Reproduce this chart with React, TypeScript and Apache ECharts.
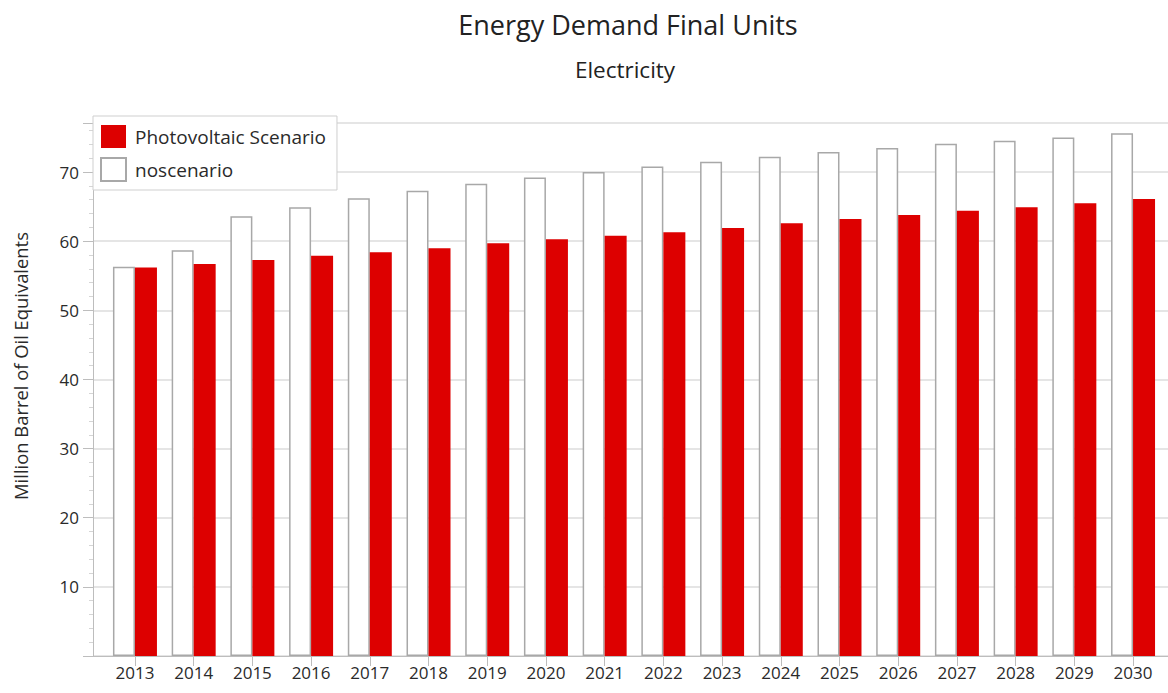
import React, { useEffect, useRef } from "react";
import * as echarts from "echarts";

const years = ["2013", "2014", "2015", "2016", "2017", "2018", "2019", "2020", "2021", "2022", "2023", "2024", "2025", "2026", "2027", "2028", "2029", "2030"];
const photovoltaic = [56.2, 56.7, 57.3, 57.9, 58.4, 59.0, 59.7, 60.3, 60.8, 61.3, 61.9, 62.6, 63.2, 63.8, 64.4, 64.9, 65.5, 66.1];
const noscenario = [56.3, 58.7, 63.6, 64.9, 66.2, 67.3, 68.3, 69.2, 70.0, 70.8, 71.5, 72.2, 72.9, 73.5, 74.1, 74.55, 75.0, 75.6];
const yMax = 77.1;

const FONT = "'Open Sans', 'Noto Sans', sans-serif";

export default function App() {
  const ref = useRef<HTMLDivElement>(null);
  useEffect(() => {
    document.body.style.margin = "0";
    const chart = echarts.init(ref.current!, null, { renderer: "svg" });
    chart.setOption({
      animation: false,
      backgroundColor: "#ffffff",
      textStyle: { fontFamily: FONT },
      title: [
        {
          text: "Energy Demand Final Units",
          left: 623,
          top: 6,
          textAlign: "center",
          textStyle: { fontFamily: FONT, fontSize: 27, fontWeight: "normal", color: "#222" },
        },
        {
          text: "Electricity",
          left: 620,
          top: 53,
          textAlign: "center",
          textStyle: { fontFamily: FONT, fontSize: 22.5, fontWeight: "normal", color: "#222" },
        },
      ],
      legend: {
        data: ["Photovoltaic Scenario", "noscenario"],
        orient: "vertical",
        left: 93,
        top: 116,
        padding: [9, 11, 8, 7],
        itemWidth: 25,
        itemHeight: 23,
        itemGap: 9,
        icon: "rect",
        backgroundColor: "#ffffff",
        borderColor: "#cfcfcf",
        borderWidth: 1,
        textStyle: { fontFamily: FONT, fontSize: 19, color: "#2a2a2a", padding: [0, 0, 0, 4] },
        z: 10,
      },
      graphic: [
        {
          type: "text",
          x: 20,
          y: 366,
          rotation: Math.PI / 2,
          style: {
            text: "Million Barrel of Oil Equivalents",
            font: `18.4px ${FONT}`,
            fill: "#2a2a2a",
            textAlign: "center",
            textVerticalAlign: "middle",
          },
        },
      ],
      grid: [
        { left: 93, right: 0, top: 123, bottom: 37 },
        { left: 105.6, right: 5.6, top: 123, bottom: 37 },
      ],
      xAxis: [
        {
          gridIndex: 0,
          type: "value",
          min: 0,
          max: 1,
          axisLine: { show: true, lineStyle: { color: "#bdbdbd", width: 1 } },
          axisTick: { show: false },
          axisLabel: { show: false },
          splitLine: { show: false },
        },
        {
          gridIndex: 1,
          type: "category",
          data: years,
          axisLine: { show: false },
          axisTick: { show: true, alignWithLabel: true, length: 10, lineStyle: { color: "#bdbdbd" } },
          axisLabel: { margin: 8, fontFamily: FONT, fontSize: 17, color: "#2a2a2a" },
          splitLine: { show: false },
        },
      ],
      yAxis: [
        {
          gridIndex: 0,
          type: "value",
          min: 0,
          max: yMax,
          interval: 10,
          axisLine: { show: true, lineStyle: { color: "#bdbdbd", width: 1 } },
          axisTick: { show: true, length: 10, lineStyle: { color: "#bdbdbd" } },
          minorTick: { show: true, splitNumber: 5, length: 4, lineStyle: { color: "#d5d5d5" } },
          axisLabel: {
            margin: 14,
            fontFamily: FONT,
            fontSize: 17,
            color: "#2a2a2a",
            showMaxLabel: false,
            formatter: (v: number) => (v === 0 ? "" : String(v)),
          },
          splitLine: { show: true, lineStyle: { color: "#dcdcdc", width: 1.5 } },
        },
        {
          gridIndex: 1,
          type: "value",
          min: 0,
          max: yMax,
          show: false,
        },
      ],
      series: [
        {
          name: "noscenario",
          type: "bar",
          xAxisIndex: 1,
          yAxisIndex: 1,
          data: noscenario,
          barWidth: 22,
          barGap: "0%",
          itemStyle: { color: "#ffffff", borderColor: "#a8a8a8", borderWidth: 1.5 },
        },
        {
          name: "Photovoltaic Scenario",
          type: "bar",
          xAxisIndex: 1,
          yAxisIndex: 1,
          data: photovoltaic,
          barWidth: 22,
          barGap: "0%",
          itemStyle: { color: "#dd0000" },
        },
      ],
    });
    return () => chart.dispose();
  }, []);
  return <div ref={ref} style={{ width: 1168, height: 693 }} />;
}
